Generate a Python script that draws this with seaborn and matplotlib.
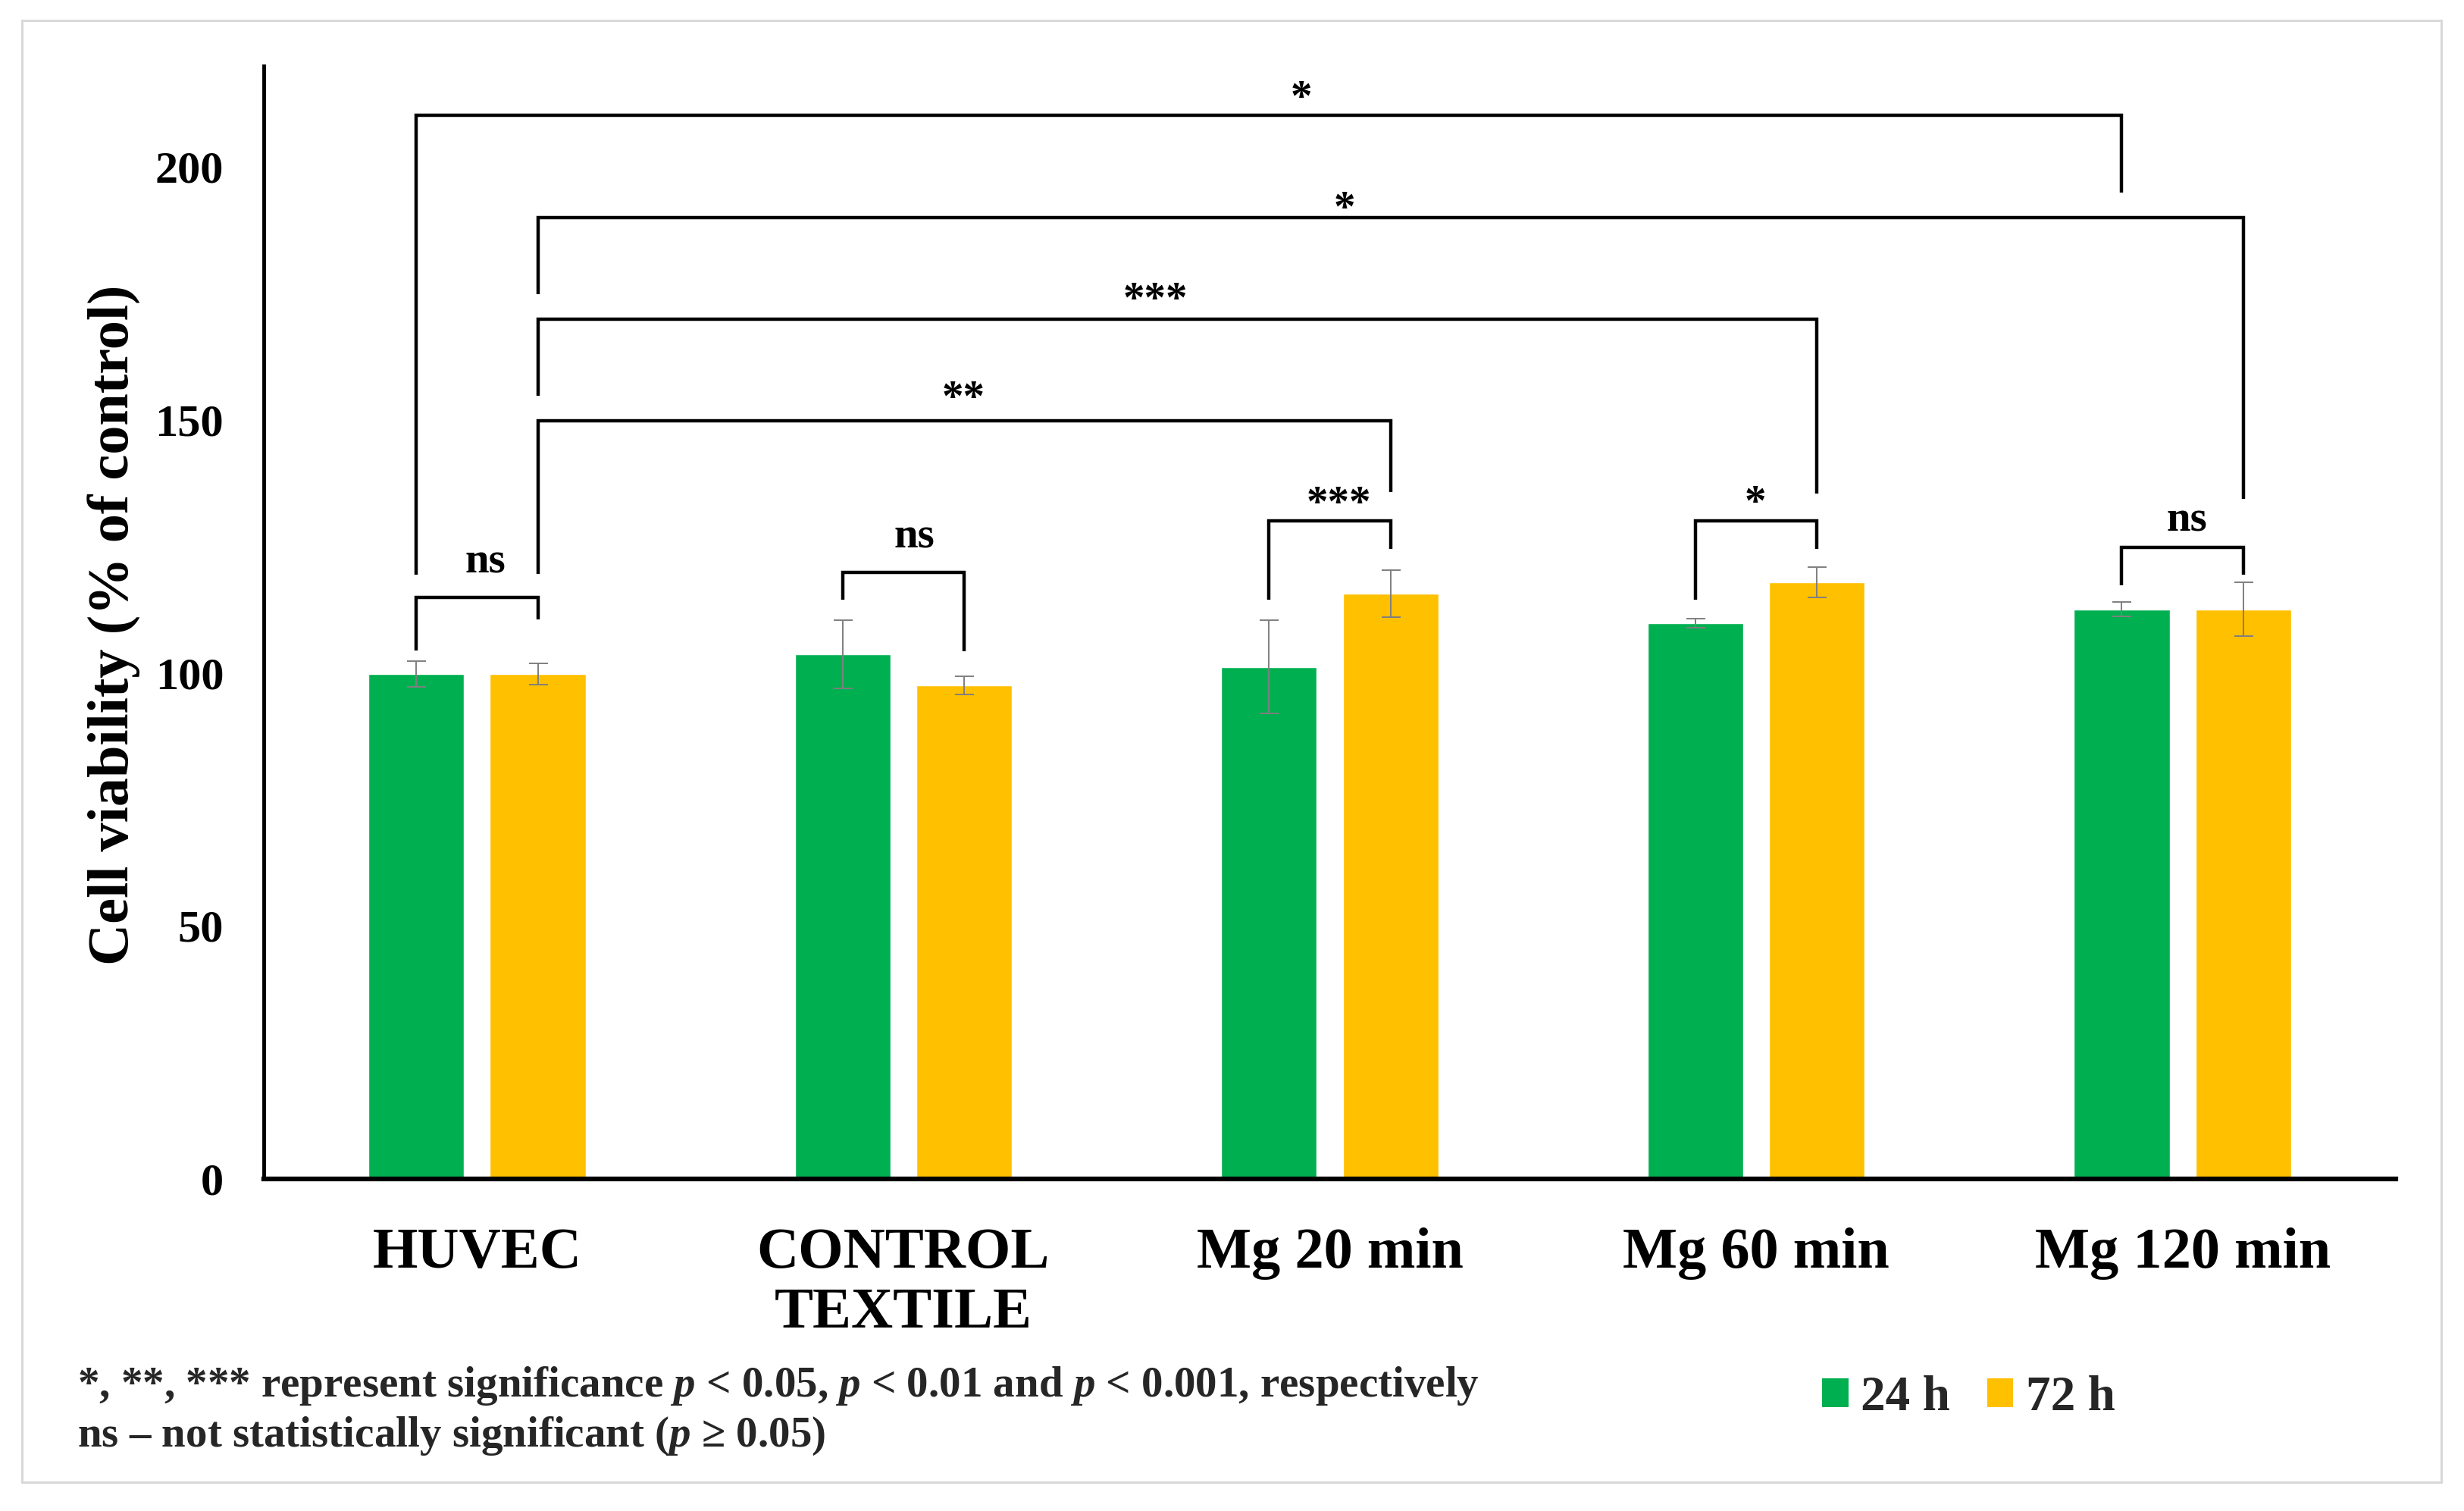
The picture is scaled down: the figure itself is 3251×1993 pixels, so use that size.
import matplotlib
matplotlib.use("Agg")
import numpy as np
import pandas as pd
import seaborn as sns
import matplotlib.pyplot as plt
from matplotlib.patches import Patch, Rectangle
from matplotlib.container import BarContainer

# ---------------- data ----------------
groups = ["HUVEC", "CONTROL\nTEXTILE", "Mg 20 min", "Mg 60 min", "Mg 120 min"]
times = ["24 h", "72 h"]
viability_24h = [99.8, 103.7, 101.2, 109.8, 112.6]
viability_72h = [99.8, 97.5, 115.7, 117.9, 112.6]
error_24h = [2.6, 6.7, 9.2, 0.9, 1.4]
error_72h = [2.1, 1.8, 4.6, 3.0, 5.3]
yticks = [0, 50, 100, 150, 200]

# significance brackets: (group a, time a, group b, time b, bar height, left end, right end, label, label x, label baseline)
brackets = [
    (0, 0, 0, 1, 114.9, 104.4, 110.6, "ns", 0.019, 119.8),
    (1, 0, 1, 1, 119.9, 114.5, 104.3, "ns", 1.025, 124.8),
    (2, 0, 2, 1, 130.1, 114.5, 124.5, "***", 2.022, 131.1),
    (3, 0, 3, 1, 130.1, 114.5, 124.5, "*", 2.998, 131.3),
    (4, 0, 4, 1, 124.9, 117.4, 119.4, "ns", 4.010, 128.0),
    (0, 0, 4, 0, 210.2, 119.4, 194.9, "*", 1.933, 211.3),
    (0, 1, 4, 1, 190.1, 174.9, 134.5, "*", 2.035, 189.5),
    (0, 1, 3, 1, 170.0, 154.8, 135.5, "***", 1.591, 171.5),
    (0, 1, 2, 1, 149.8, 119.6, 135.8, "**", 1.141, 152.0),
]

footnote_1 = "*, **, *** represent significance $p$ < 0.05, $p$ < 0.01 and $p$ < 0.001, respectively"
footnote_2 = "ns \u2013 not statistically significant ($p$ \u2265 0.05)"

colors = {"24 h": "#00B050", "72 h": "#FFC000"}

# ---------------- style ----------------
sns.set_theme(style="white")
plt.rcParams["font.family"] = ["Liberation Serif", "DejaVu Serif"]
plt.rcParams["font.weight"] = "bold"
plt.rcParams["mathtext.fontset"] = "custom"
plt.rcParams["mathtext.rm"] = "Liberation Serif:bold"
plt.rcParams["mathtext.it"] = "Liberation Serif:italic:bold"
plt.rcParams["mathtext.bf"] = "Liberation Serif:bold"

W, H = 3251, 1993
fig = plt.figure(figsize=(W / 100, H / 100), dpi=100)
fig.patch.set_facecolor("white")
ax = fig.add_axes([348 / W, 1 - 1555 / H, (3161 - 348) / W, (1555 - 87) / H])

df = pd.DataFrame({
    "group": groups * 2,
    "time": [times[0]] * len(groups) + [times[1]] * len(groups),
    "value": viability_24h + viability_72h,
})

sns.barplot(data=df, x="group", y="value", hue="time", order=groups, hue_order=times,
            palette=colors, saturation=1, width=0.5705, gap=0.214, errorbar=None,
            legend=False, ax=ax, zorder=2)

# bar centres from seaborn's own bars
errs = [error_24h, error_72h]
bar_conts = [c for c in ax.containers if isinstance(c, BarContainer)]
centers = {}
for hi, cont in enumerate(bar_conts):
    xs, ys, es = [], [], []
    for p in cont.patches:
        xc = p.get_x() + p.get_width() / 2
        ci = int(round(xc))
        centers[(ci, hi)] = xc
        xs.append(xc)
        ys.append(p.get_height())
        es.append(errs[hi][ci])
    ax.errorbar(xs, ys, yerr=es, fmt="none", ecolor="#7f7f7f", elinewidth=1.4,
                capsize=9, capthick=1.4, zorder=3)

# brackets
for (ga, ta, gb, tb, top, yl, yr, lab, lx, ly) in brackets:
    xa = centers[(ga, ta)]
    xb = centers[(gb, tb)]
    ax.plot([xa, xa, xb, xb], [yl, top, top, yr], color="black", lw=3.2,
            solid_joinstyle="miter", solid_capstyle="butt", clip_on=False, zorder=4)
    ax.text(lx, ly, lab, ha="center", va="baseline", fontsize=41,
            fontweight="bold", color="black", zorder=5)

# axes
ax.set_xlim(-0.5, 4.5)
ax.set_ylim(0, 220)
ax.set_yticks(yticks)
ax.set_yticklabels([str(t) for t in yticks])
ax.set_xlabel("")
ax.set_ylabel("Cell viability (% of control)", fontsize=55, fontweight="bold", color="black")
ax.yaxis.set_label_coords(-0.0576, 0.498)
ax.tick_params(axis="both", length=0, colors="black")
ax.tick_params(axis="x", labelsize=55, pad=46)
ax.tick_params(axis="y", labelsize=43.5, pad=38)
for lab in ax.get_xticklabels() + ax.get_yticklabels():
    lab.set_fontweight("bold")
for lab in ax.get_xticklabels():
    lab.set_multialignment("center")

for s in ["top", "right"]:
    ax.spines[s].set_visible(False)
ax.spines["left"].set_color("black")
ax.spines["left"].set_linewidth(3.5)
ax.spines["bottom"].set_color("black")
ax.spines["bottom"].set_linewidth(4.5)
ax.grid(False)

# frame around figure
fig.add_artist(Rectangle((29 / W, 1 - 1955 / H), (3221 - 29) / W, (1955 - 27) / H,
                         transform=fig.transFigure, fill=False, edgecolor="#d9d9d9", lw=2.2))

# footnotes
fig.text(102 / W, 1 - 1841.7 / H, footnote_1, fontsize=41, fontweight="bold", va="baseline", ha="left")
fig.text(102 / W, 1 - 1908 / H, footnote_2, fontsize=41, fontweight="bold", va="baseline", ha="left")

# legend
handles = [Patch(facecolor=colors[t], edgecolor="none") for t in times]
fig.legend(handles, times, loc="center left", bbox_to_anchor=(2404 / W, 1 - 1844 / H),
           ncol=2, frameon=False, prop={"size": 47, "weight": "bold"},
           handlelength=0.53, handleheight=0.52, handletextpad=0.25,
           columnspacing=0.75, borderpad=0, borderaxespad=0)

fig.savefig("out.png", dpi=100, facecolor="white")
